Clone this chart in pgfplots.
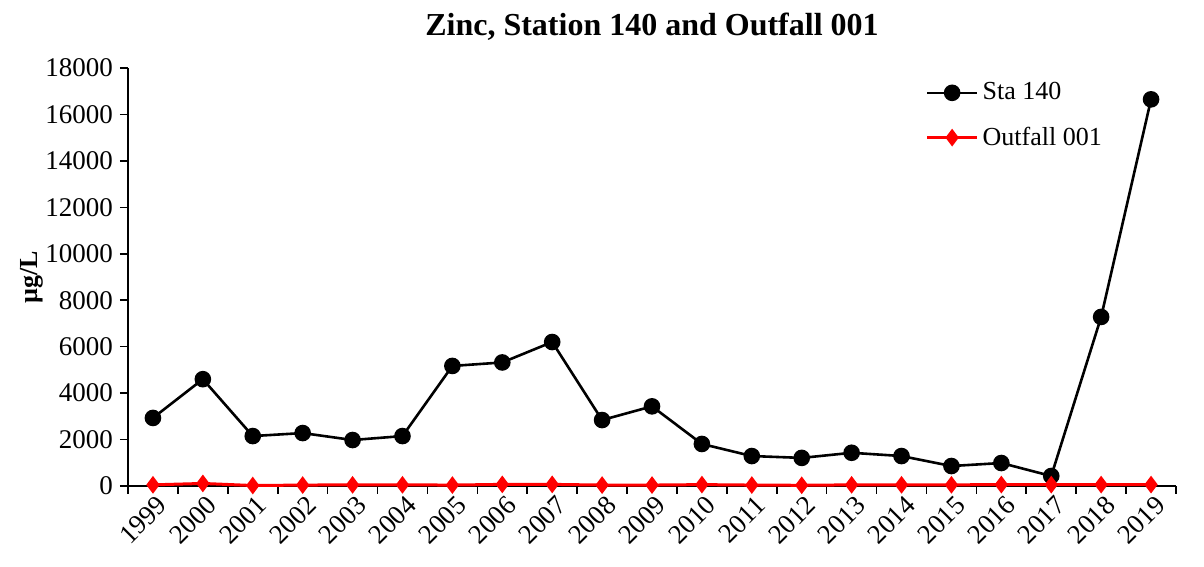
\documentclass[border=0pt]{standalone}
\usepackage{pgfplots}
\pgfplotsset{compat=1.18}
\usepackage{fontspec}
\setmainfont{Liberation Serif}
\begin{document}
\begin{tikzpicture}
\path[use as bounding box] (0,0) rectangle (602pt,283.5pt);
\begin{axis}[
  at={(64pt,40.5pt)}, anchor=south west,
  width=524pt, height=209pt, scale only axis,
  xmin=-0.5, xmax=20.5, ymin=0, ymax=18000,
  axis lines=left, axis line style={-, line width=0.8pt},
  xtick={0,...,20},
  xticklabels={1999,2000,2001,2002,2003,2004,2005,2006,2007,2008,2009,2010,2011,2012,2013,2014,2015,2016,2017,2018,2019},
  minor xtick={-0.5,0.5,...,20.5},
  major x tick style={draw=none},
  minor tick length=4pt,
  x tick label style={rotate=45, anchor=north east, font=\fontsize{13.5}{15}\selectfont, inner sep=1pt, xshift=2pt},
  ytick={0,2000,...,18000},
  y tick label style={font=\fontsize{13.5}{15}\selectfont},
  scaled y ticks=false,
  yticklabel style={/pgf/number format/.cd, fixed, set thousands separator={}, assume math mode=true},
  tick align=outside, tick style={black, line width=0.8pt}, major tick length=4pt,
  ylabel={\textbf{µg/L}}, ylabel style={font=\fontsize{13}{15}\selectfont, at={(-39pt,0.5)}},
  title={\textbf{Zinc, Station 140 and Outfall 001}},
  title style={font=\fontsize{16}{18}\selectfont, at={(0.5,1)}, yshift=4pt},
  clip=false,
  legend style={draw=none, fill=none, at={(0.755,0.985)}, anchor=north west, font=\fontsize{13}{15}\selectfont, row sep=8pt},
  legend cell align=left,
  legend image code/.code={\draw[#1] (0pt,0pt) -- (25pt,0pt); \draw[#1, mark repeat=1] plot coordinates {(12.5pt,0pt)};},
]
\addplot[black, line width=1.3pt, mark=*, mark size=3.5pt] coordinates {
(0,2930) (1,4600) (2,2150) (3,2280) (4,1980) (5,2150) (6,5170) (7,5320) (8,6200) (9,2840) (10,3430) (11,1810) (12,1290) (13,1210) (14,1430) (15,1290) (16,860) (17,990) (18,430) (19,7280) (20,16650)
};
\addlegendentry{Sta 140}
\addplot[red, line width=1.5pt, mark=diamond*, mark size=3.2pt] coordinates {
(0,50) (1,110) (2,20) (3,40) (4,50) (5,50) (6,40) (7,70) (8,70) (9,40) (10,40) (11,60) (12,40) (13,30) (14,50) (15,50) (16,50) (17,60) (18,60) (19,60) (20,60)
};
\addlegendentry{Outfall 001}
\end{axis}
\end{tikzpicture}
\end{document}
